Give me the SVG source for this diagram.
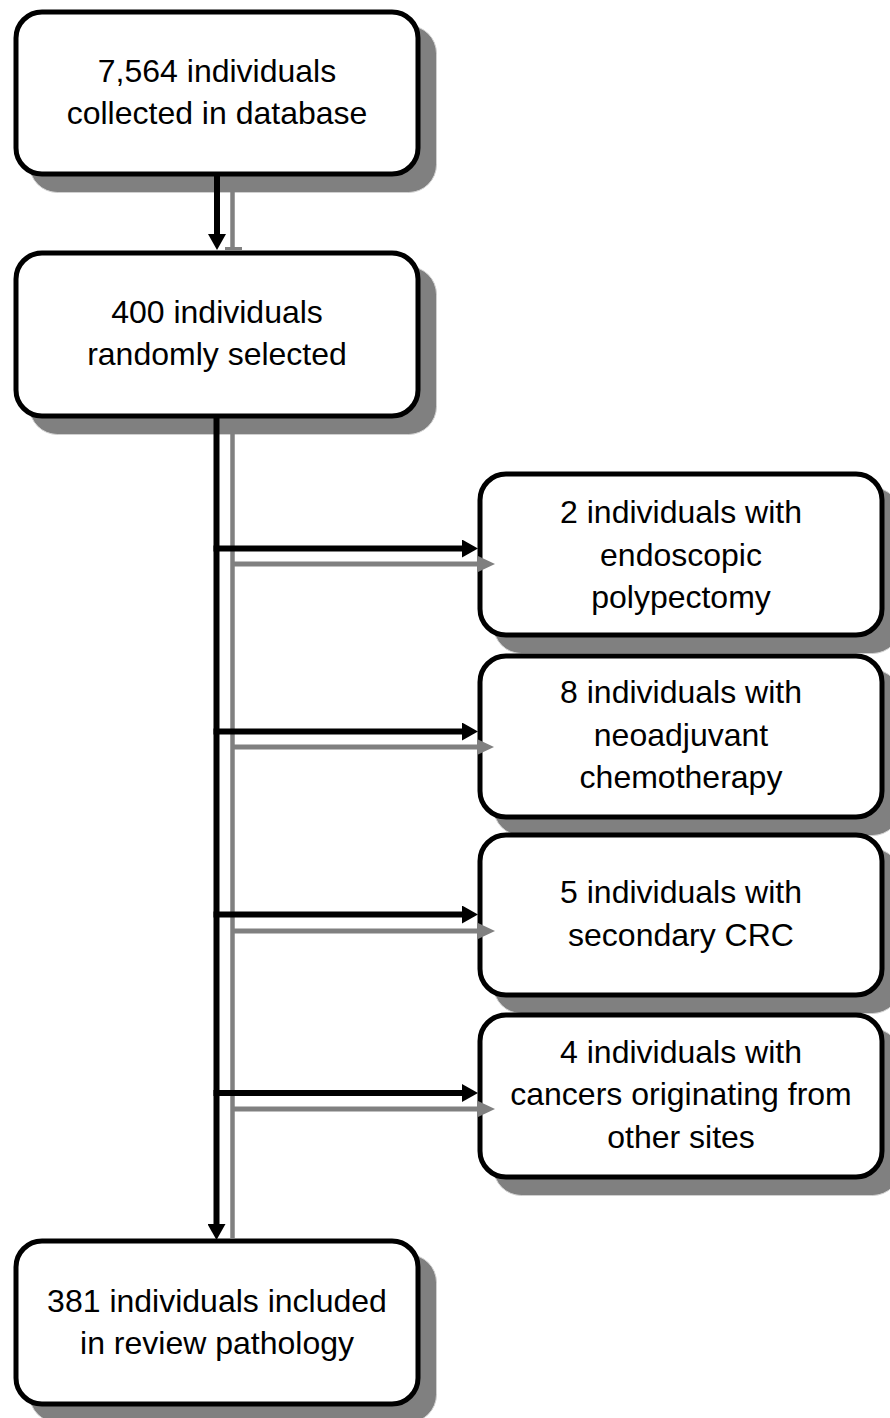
<svg xmlns="http://www.w3.org/2000/svg" width="890" height="1418" viewBox="0 0 890 1418">
<style>
.shadow{fill:#808080;stroke:#d0d0d0;stroke-width:1}
.box{fill:#fff;stroke:#000;stroke-width:5}
.t{font-family:"Liberation Sans",Arial,sans-serif;font-size:32px;fill:#000;text-anchor:middle}
.cb{stroke:#000;stroke-width:6;fill:none}
.cg{stroke:#808080;stroke-width:5;fill:none}
.cgv{stroke:#808080;stroke-width:4.5;fill:none}
</style>
<defs>
<marker id="ab" markerUnits="userSpaceOnUse" markerWidth="16" markerHeight="18" refX="8" refY="9" orient="auto"><path d="M0,0 L16,9 L0,18 z" fill="#000"/></marker>
<marker id="ag" markerUnits="userSpaceOnUse" markerWidth="17" markerHeight="16" refX="8" refY="8" orient="auto"><path d="M0,0 L17,8 L0,16 z" fill="#808080"/></marker>
</defs>
<g id="n1">
<rect class="shadow" x="29.5" y="25.5" width="407" height="167" rx="28"/>
<rect class="box" x="16" y="12" width="402" height="162" rx="26"/>
<text class="t" x="217" y="82">7,564 individuals</text>
<text class="t" x="217" y="124">collected in database</text>
</g>
<g id="n2">
<rect class="shadow" x="29.5" y="266.5" width="407" height="168" rx="28"/>
<rect class="box" x="16" y="253" width="402" height="163" rx="26"/>
<text class="t" x="217" y="323">400 individuals</text>
<text class="t" x="217" y="365">randomly selected</text>
</g>
<g id="n3">
<rect class="shadow" x="493.5" y="487.5" width="407" height="166" rx="28"/>
<rect class="box" x="480" y="474" width="402" height="161" rx="26"/>
<text class="t" x="681" y="523">2 individuals with</text>
<text class="t" x="681" y="566">endoscopic</text>
<text class="t" x="681" y="608">polypectomy</text>
</g>
<g id="n4">
<rect class="shadow" x="493.5" y="669.5" width="407" height="166" rx="28"/>
<rect class="box" x="480" y="656" width="402" height="161" rx="26"/>
<text class="t" x="681" y="703">8 individuals with</text>
<text class="t" x="681" y="746">neoadjuvant</text>
<text class="t" x="681" y="788">chemotherapy</text>
</g>
<g id="n5">
<rect class="shadow" x="493.5" y="848.5" width="407" height="165" rx="28"/>
<rect class="box" x="480" y="835" width="402" height="160" rx="26"/>
<text class="t" x="681" y="903">5 individuals with</text>
<text class="t" x="681" y="946">secondary CRC</text>
</g>
<g id="n6">
<rect class="shadow" x="493.5" y="1028.5" width="407" height="167" rx="28"/>
<rect class="box" x="480" y="1015" width="402" height="162" rx="26"/>
<text class="t" x="681" y="1063">4 individuals with</text>
<text class="t" x="681" y="1105">cancers originating from</text>
<text class="t" x="681" y="1148">other sites</text>
</g>
<g id="n7">
<rect class="shadow" x="29.5" y="1254.5" width="407" height="168" rx="28"/>
<rect class="box" x="16" y="1241" width="402" height="163" rx="26"/>
<text class="t" x="217" y="1312">381 individuals included</text>
<text class="t" x="217" y="1354">in review pathology</text>
</g>
<g id="connectors">
<line class="cgv" x1="232.5" y1="191" x2="232.5" y2="248"/>
<rect x="225" y="247" width="17" height="3.5" fill="#808080"/>
<line class="cgv" x1="232.5" y1="432" x2="232.5" y2="1239"/>
<line class="cg" x1="232.5" y1="564" x2="486" y2="564" marker-end="url(#ag)"/>
<line class="cg" x1="232.5" y1="747" x2="485" y2="747" marker-end="url(#ag)"/>
<line class="cg" x1="232.5" y1="931" x2="486" y2="931" marker-end="url(#ag)"/>
<line class="cg" x1="232.5" y1="1109" x2="486" y2="1109" marker-end="url(#ag)"/>
<line class="cb" x1="217" y1="176" x2="217" y2="242" marker-end="url(#ab)"/>
<line class="cb" x1="216.5" y1="418" x2="216.5" y2="1232" marker-end="url(#ab)"/>
<line class="cb" x1="213.5" y1="548.5" x2="470" y2="548.5" marker-end="url(#ab)"/>
<line class="cb" x1="213.5" y1="731.5" x2="470" y2="731.5" marker-end="url(#ab)"/>
<line class="cb" x1="213.5" y1="914.5" x2="470" y2="914.5" marker-end="url(#ab)"/>
<line class="cb" x1="213.5" y1="1093" x2="470" y2="1093" marker-end="url(#ab)"/>
</g>
</svg>
